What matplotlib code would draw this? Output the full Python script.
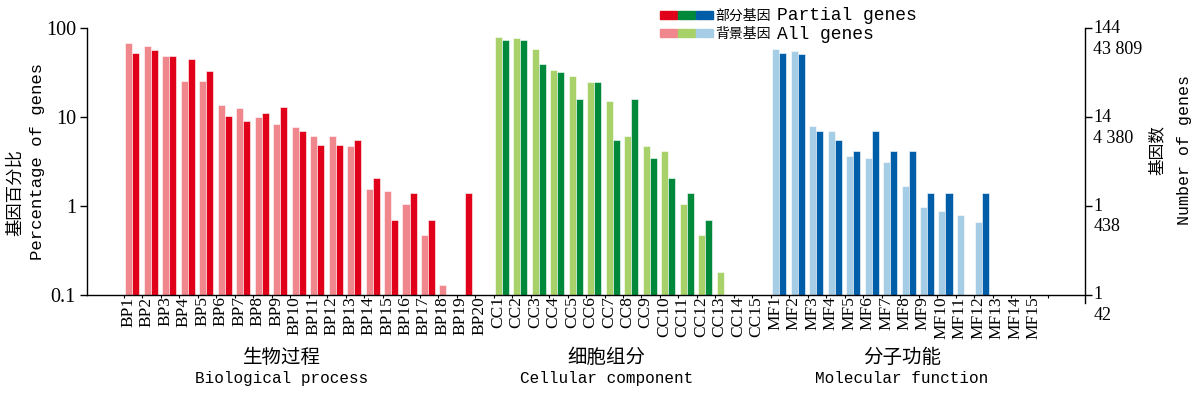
import numpy as np
import matplotlib
matplotlib.use('Agg')
import matplotlib.pyplot as plt
from matplotlib.legend_handler import HandlerTuple
from matplotlib.patches import Patch
import matplotlib.transforms as mtransforms

nan = np.nan
# 背景基因 All genes / 部分基因 Partial genes (percentage of genes)
bp_labels = ['BP%d' % i for i in range(1, 21)]
cc_labels = ['CC%d' % i for i in range(1, 16)]
mf_labels = ['MF%d' % i for i in range(1, 16)]
bp_all = [68, 64, 48.5, 25.8, 25.6, 13.7, 12.7, 10.1, 8.5, 7.8, 6.2, 6.2, 4.7, 1.57, 1.50, 1.07, 0.47, 0.128, nan, nan]
bp_part = [53.5, 56.9, 48.6, 45.1, 33.3, 10.4, 9.03, 11.1, 13.2, 6.94, 4.86, 4.86, 5.56, 2.08, 0.69, 1.39, 0.69, nan, 1.39, nan]
cc_all = [79.5, 78.7, 58.2, 34.3, 29.3, 24.7, 15.1, 6.1, 4.7, 4.16, 1.06, 0.47, 0.18, nan, nan]
cc_part = [75.0, 75.0, 39.6, 32.6, 16.0, 25.0, 5.56, 16.0, 3.47, 2.08, 1.39, 0.69, nan, nan, nan]
mf_all = [58.2, 55.6, 8.0, 7.05, 3.68, 3.47, 3.13, 1.68, 0.98, 0.885, 0.8, 0.67, nan, nan, nan]
mf_part = [52.8, 52.1, 6.94, 5.56, 4.17, 6.94, 4.17, 4.17, 1.39, 1.39, nan, 1.39, nan, nan, nan]

yticks = [0.1, 1, 10, 100]
ytick_labels = ['0.1', '1', '10', '100']
right_labels = [('1', '42'), ('1', '438'), ('14', '4 380'), ('144', '43 809')]

groups = [
    (bp_labels, bp_all, bp_part, '#F0878D', '#E1001A', '生物过程', 'Biological process', 8.55),
    (cc_labels, cc_all, cc_part, '#A9D16A', '#00893A', '细胞组分', 'Cellular component', 26.1),
    (mf_labels, mf_all, mf_part, '#A6CDE6', '#005EA8', '分子功能', 'Molecular function', 42.1),
]

serif = ['Liberation Serif', 'Noto Sans CJK SC']
mono = ['Liberation Mono', 'Noto Sans CJK SC']
cjk = ['Noto Sans CJK SC', 'DejaVu Sans']

fig = plt.figure(figsize=(12, 3.94), dpi=100)
ax = fig.add_axes([0.0725, 0.2513, 0.8317, 0.6764])

w = 0.38
start = 0
all_labels = []
handles_all = []
handles_part = []
for labels, v_all, v_part, c_light, c_dark, cn, en, xc in groups:
    x = np.arange(start, start + len(labels)) + 0.45
    ax.bar(x - w / 2, v_all, w, color=c_light, edgecolor='white', linewidth=0.4)
    ax.bar(x + w / 2, v_part, w, color=c_dark, edgecolor='white', linewidth=0.4)
    handles_all.append(Patch(color=c_light))
    handles_part.append(Patch(color=c_dark))
    all_labels += labels
    start += len(labels)
    trans = mtransforms.blended_transform_factory(ax.transData, ax.transAxes)
    ax.text(xc, -0.233, cn, transform=trans, ha='center', va='center', fontsize=14, family=cjk)
    ax.text(xc, -0.315, en, transform=trans, ha='center', va='center', fontsize=11.5, family=mono)

n = len(all_labels)
ax.set_yscale('log')
ax.set_ylim(0.1, 100)
ax.set_xlim(-2, n + 2)
ax.set_yticks(yticks)
ax.set_yticklabels(ytick_labels, family=serif, fontsize=14.5)
ax.yaxis.set_minor_locator(matplotlib.ticker.NullLocator())
ax.tick_params(axis='y', direction='out', length=5, width=1, pad=3)

ax.set_xticks(np.arange(n) + 0.23)
ax.set_xticklabels(all_labels, rotation=90, family=serif, fontsize=12.5)
ax.set_xticks(np.arange(n + 1), minor=True)
ax.tick_params(axis='x', which='major', length=0, pad=1)
ax.tick_params(axis='x', which='minor', length=2.5, width=0.8, direction='out')

ax.spines['top'].set_visible(False)
ax.spines['right'].set_visible(False)
for s in ['left', 'bottom']:
    ax.spines[s].set_linewidth(1)

# right axis
ax2 = ax.twinx()
ax2.set_yscale('log')
ax2.set_ylim(0.1, 100)
ax2.set_yticks(yticks)
ax2.set_yticklabels([])
ax2.yaxis.set_minor_locator(matplotlib.ticker.NullLocator())
ax2.tick_params(axis='y', direction='out', length=5, width=1)
for s in ['top', 'left', 'bottom']:
    ax2.spines[s].set_visible(False)
ax2.spines['right'].set_linewidth(1)
ax2.spines['right'].set_bounds(0.082, 100)
rt = mtransforms.blended_transform_factory(ax2.transAxes, ax2.transData)
for yv, (l1, l2) in zip(yticks, right_labels):
    ax2.annotate(l1, xy=(1, yv), xycoords=rt, xytext=(6, 0), textcoords='offset points',
                 ha='left', va='center', fontsize=13, family=serif)
    ax2.annotate(l2, xy=(1, yv), xycoords=rt, xytext=(6, -15), textcoords='offset points',
                 ha='left', va='center', fontsize=13, family=serif)

# axis titles
fig.text(0.0125, 0.51, '基因百分比', rotation=90, ha='center', va='center', fontsize=12.5, family=cjk)
fig.text(0.031, 0.59, 'Percentage of genes', rotation=90, ha='center', va='center', fontsize=12.5, family=mono)
fig.text(0.964, 0.62, '基因数', rotation=90, ha='center', va='center', fontsize=12, family=cjk)
fig.text(0.987, 0.62, 'Number of genes', rotation=90, ha='center', va='center', fontsize=12, family=mono)

# legend
leg = fig.legend([tuple(handles_part), tuple(handles_all)], ['部分基因', '背景基因'],
                 handler_map={tuple: HandlerTuple(ndivide=None, pad=0.08)},
                 loc='upper left', bbox_to_anchor=(660 / 1200, 1 - 9 / 394),
                 frameon=False, prop={'family': cjk, 'size': 10},
                 handlelength=3.8, handleheight=0.45, handletextpad=0.2,
                 borderpad=0, borderaxespad=0, labelspacing=0.3)
fig.canvas.draw()
for t, en in zip(leg.get_texts(), ['Partial genes', 'All genes']):
    bb = t.get_window_extent()
    fig.text((bb.x1 + 6) / 1200, (bb.y0 + bb.y1) / 2 / 394, en,
             ha='left', va='center', fontsize=13, family=mono)

fig.savefig('out.png', dpi=100)
